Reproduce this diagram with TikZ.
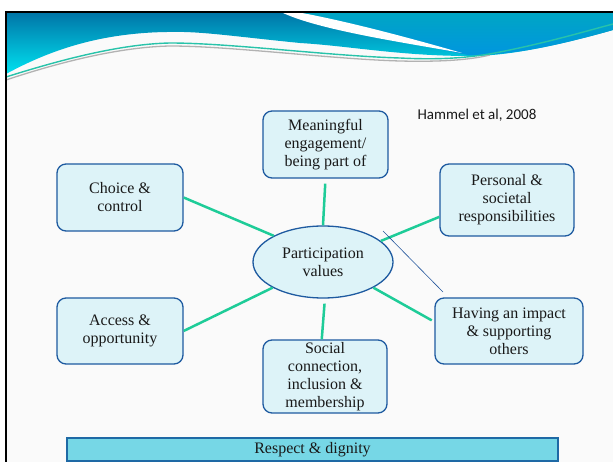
\documentclass[tikz,border=0pt]{standalone}
\usepackage{fontspec}
\setmainfont{Liberation Serif}
\newfontfamily\hamfont{Carlito}
\usetikzlibrary{shapes.geometric,calc}
\definecolor{boxfill}{RGB}{221,243,248}
\definecolor{boxdraw}{RGB}{30,90,160}
\definecolor{linkgreen}{RGB}{30,204,152}
\definecolor{barfill}{RGB}{118,215,230}
\definecolor{bardraw}{RGB}{30,105,165}
\definecolor{slidebg}{RGB}{250,250,250}
\definecolor{hdrtop}{RGB}{0,118,168}
\definecolor{hdrbot}{RGB}{0,226,240}
\definecolor{hdrrtop}{RGB}{0,165,196}
\definecolor{hdrrbot}{RGB}{0,150,224}
\definecolor{wavegreen}{RGB}{40,195,170}
\definecolor{thinblue}{RGB}{35,85,155}
\definecolor{inktext}{RGB}{25,25,25}
\begin{document}
\begin{tikzpicture}[x=1pt,y=-1pt,
  box/.style={draw=boxdraw, line width=1.3pt, fill=boxfill, rounded corners=9pt,
    align=center, font=\fontsize{16}{18}\selectfont, text=inktext, inner sep=0pt},
  hub/.style={draw=boxdraw, line width=1.3pt, fill=boxfill, ellipse,
    align=center, font=\fontsize{16}{18}\selectfont, text=inktext, inner sep=0pt,
    minimum width=140pt, minimum height=72pt},
  link/.style={draw=linkgreen, line width=2.5pt},
  barbox/.style={draw=bardraw, line width=1.3pt, fill=barfill, inner sep=0pt,
    font=\fontsize{16}{18}\selectfont, text=inktext}]
\useasboundingbox (0,0) rectangle (613,462);
% slide background
\fill[white] (0,0) rectangle (613,462);
\fill[slidebg] (6,13) rectangle (613,462);
% header wave
\shade[top color=hdrtop, bottom color=hdrbot]
  (6,13) -- (613,13) -- (613,30) .. controls (560,45) and (510,56) .. (470,56)
  .. controls (400,56) and (350,46) .. (300,43)
  .. controls (230,36) and (200,31) .. (167,32)
  .. controls (100,33) and (50,50) .. (6,74) -- cycle;
\shade[top color=hdrrtop, bottom color=hdrrbot]
  (290,13) -- (613,13) -- (613,30) .. controls (560,45) and (510,56) .. (468,55)
  .. controls (410,44) and (350,28) .. (290,13) -- cycle;
\fill[white] (283,13) -- (302,13) .. controls (350,22) and (410,38) .. (462,53)
  .. controls (400,42) and (320,30) .. (283,13) -- cycle;
\draw[gray!60, line width=1.3pt] (6,80) .. controls (60,62) and (120,47) .. (170,46)
  .. controls (230,46) and (330,59) .. (400,61) .. controls (440,62) and (470,60) .. (490,55);
\draw[wavegreen, line width=1.4pt] (6,77) .. controls (60,60) and (120,44) .. (170,43)
  .. controls (230,43) and (330,56) .. (400,58) .. controls (440,60) and (470,58) .. (500,52)
  .. controls (550,42) and (590,30) .. (613,24);
% frame
\draw[black, line width=2pt] (613,12.5) -- (6,12.5) -- (6,462);
% nodes
\node[hub] (ell) at (323,262) {Participation\\values};
\node[box, minimum width=125pt, minimum height=67pt] (mean) at (325.5,144.5) {Meaningful\\engagement/\\being part of};
\node[box, minimum width=126pt, minimum height=67pt] (choice) at (120,197.5) {Choice \&\\control};
\node[box, minimum width=134pt, minimum height=72pt] (pers) at (507,200) {Personal \&\\societal\\responsibilities};
\node[box, minimum width=126pt, minimum height=66pt] (access) at (120,331) {Access \&\\opportunity};
\node[box, minimum width=148pt, minimum height=66pt] (impact) at (509,331) {Having an impact\\\& supporting\\others};
\node[box, minimum width=124pt, minimum height=73pt] (social) at (325,376.5) {Social\\connection,\\inclusion \&\\membership};
\node[barbox, minimum width=491pt, minimum height=23pt] (resp) at (312.5,449.5) {Respect \& dignity};
\node[font=\hamfont\fontsize{15}{18}\selectfont, text=inktext] (ham) at (477,115) {Hammel et al, 2008};
% connectors
\draw[link, shorten <=5pt] (mean.south) -- (ell.north);
\draw[link] (choice.east) -- (ell.152);
\draw[link] (ell.20) -- (pers.194);
\draw[link, shorten >=3pt] (ell.333) -- (impact.173);
\draw[link] (ell.207) -- (access.east);
\draw[link, shorten <=5pt] (ell.273) -- (social.95);
\coordinate (t1) at (383,231);
\coordinate (t2) at (443,292);
\draw[thinblue, line width=0.6pt] (t1) -- (t2);
\end{tikzpicture}
\end{document}
